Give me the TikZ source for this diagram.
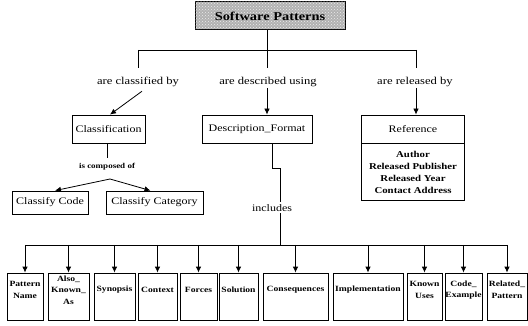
\documentclass[tikz,border=0pt]{standalone}
\usepackage{fontspec}
\setmainfont{Liberation Serif}[FakeStretch=1.2]
\usetikzlibrary{arrows.meta,patterns}
\begin{document}
\begin{tikzpicture}[x=1pt,y=-1pt,line width=0.8pt,
  mbox/.style={draw, inner sep=0pt, minimum height=28pt, font=\fontsize{10}{12}\selectfont},
  lab/.style={inner sep=1pt, font=\fontsize{10.5}{13}\selectfont},
  sbox/.style={draw, inner sep=0pt, minimum height=47pt},
  stext/.style={inner sep=0pt, align=center, font=\bfseries\fontsize{8}{11.5}\selectfont},
  arr/.style={-{Latex[length=6pt,width=5.5pt]}},
]
\useasboundingbox (0,0) rectangle (528,326);

% top
\node[draw, line width=1pt, minimum width=150pt, minimum height=28pt, inner sep=0pt,
  fill=gray!60, postaction={pattern=crosshatch dots, pattern color=white!85!gray},
  font=\bfseries\fontsize{12}{14}\selectfont] (top) at (270,16) {Software Patterns};

\coordinate (bL) at (138,50);
\coordinate (bC) at (267,50);
\coordinate (bR) at (416,50);
\draw (bC |- top.south) -- (bC);
\draw (bL) -- (bR);

\node[lab] (l1) at (138,82) {are classified by};
\node[lab] (l2) at (268,82) {are described using};
\node[lab] (l3) at (415,82) {are released by};
\draw (bL) -- ++(0,18);
\draw (bC) -- ++(0,18);
\draw (bR) -- ++(0,18);

% second level
\node[mbox, minimum width=73pt] (cls) at (108.5,129) {Classification};
\node[mbox, minimum width=110pt] (desc) at (257,129) {Description\_Format};
\node[mbox, minimum width=103pt] (ref) at (413,129) {Reference};
\node[draw, inner sep=0pt, minimum width=103pt, minimum height=57pt, anchor=north,
  align=center, font=\bfseries\fontsize{9}{12}\selectfont] (refc) at (ref.south)
  {Author\\Released Publisher\\Released Year\\Contact Address};

\draw[arr] ([xshift=4pt,yshift=-3pt]l1.south) -- ([xshift=1.5pt]cls.north);
\draw[arr] ([xshift=-1pt]l2.south) -- ([xshift=-1pt]l2.south |- desc.north);
\draw[arr] ([xshift=1pt]l3.south) -- ([xshift=1pt]l3.south |- ref.north);

% classification
\draw ([xshift=-1pt]cls.south) -- ++(0,15);
\node[inner sep=0pt, font=\bfseries\fontsize{7.5}{9}\selectfont] (comp) at (107,167) {is composed of};
\coordinate (ap) at (110,179);
\node[mbox, minimum width=76pt, minimum height=23pt] (cc) at (50,202.5) {Classify Code};
\node[mbox, minimum width=97pt, minimum height=23pt] (cat) at (154.5,202.5) {Classify Category};
\draw[arr] (ap) -- ([xshift=5pt]cc.north);
\draw[arr] (ap) -- ([xshift=-4pt]cat.north);

% description format
\draw ([xshift=15pt]desc.south) -- ++(0,25) -- ++(8,0) -- ++(0,34);
\node[lab, font=\fontsize{10}{12}\selectfont] (inc) at (272,208) {includes};
\coordinate (bus) at (280,245);
\draw (bus |- inc.south) -- (bus);

% bottom boxes
\foreach \n/\cx/\w/\t in {
  pn/25/36/{Pattern\\Name},
  aka/68.5/41/{Also\_\\Known\_\\As},
  syn/114.5/41/{Synopsis},
  ctx/157.5/39/{Context},
  frc/198.5/37/{Forces},
  sol/238.5/39/{Solution},
  cons/295.5/65/{Consequences},
  imp/368/70/{Implementation},
  ku/424.5/35/{Known\\Uses},
  ce/463.5/37/{Code\_\\Example},
  rp/507/40/{Related\_\\Pattern}}{
  \node[sbox, minimum width=\w pt] (\n) at (\cx,296.5) {};
  \node[stext] (\n t) at ([yshift=6.5pt]\n.center) {\t};
  \draw[arr] (\n.north |- bus) -- (\n.north);
}
\draw (pn.north |- bus) -- (rp.north |- bus);
\end{tikzpicture}
\end{document}
